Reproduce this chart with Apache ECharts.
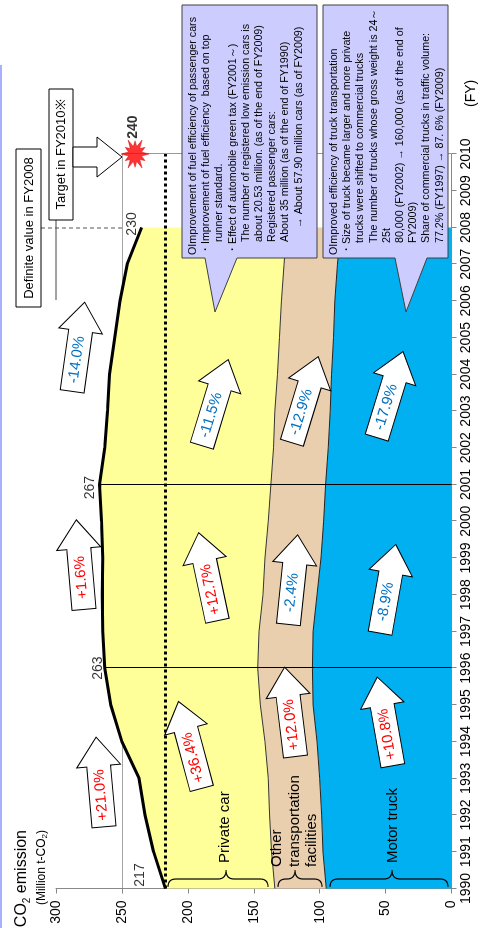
<!DOCTYPE html>
<html>
<head>
<meta charset="utf-8">
<title>CO2 emission of transport sector</title>
<script src="https://cdn.jsdelivr.net/npm/echarts@6.0.0/dist/echarts.min.js"></script>
<style>
  html, body { margin: 0; padding: 0; background: #fff; overflow: hidden; }
  /* the chart is drawn landscape, then turned a quarter left like the scan */
  #main { position: absolute; left: 0; top: 0; width: 928px; height: 486px;
    transform-origin: 0 0; transform: translateY(928px) rotate(-90deg); }
</style>
</head>
<body>
<div id="main"></div>
<script>
var FONT = '"Liberation Sans", Arial, sans-serif'
var myChart = echarts.init(document.getElementById('main'))

// values (million t-CO2)
var years = ['1990', '1991', '1992', '1993', '1994', '1995', '1996', '1997', '1998', '1999', '2000',
  '2001', '2002', '2003', '2004', '2005', '2006', '2007', '2008', '2009', '2010']
var truck = [95, 97.5, 98.5, 100, 102, 105, 105.5, 105, 102, 99, 97, 95.5, 93.5, 92, 91, 89.5, 88.5, 86.5, 84, null, null]
var other = [39, 39, 39.5, 39, 39.5, 40, 41.5, 41, 41, 42.5, 42, 41.5, 41.5, 42, 41, 41, 40.5, 40.5, 41, null, null]
var car = [83, 89.5, 94.5, 98, 108.5, 113.5, 116, 118.5, 122, 123, 126.5, 130, 128, 127, 127.5, 125, 122.5, 119, 110, null, null]

var markYears = ['1990', '1996', '2001', '2008']
var markTotals = [217, 263, 267, 235]
var markText = ['217', '263', '267', '230']
var baseValue = 217
var targetYear = '2010'
var targetValue = 240

var changeText = ['+21.0%', '+1.6%', '-14.0%', '+36.4%', '+12.7%', '-11.5%',
  '+12.0%', '-2.4%', '-12.9%', '+10.8%', '-8.9%', '-17.9%']

var box1Text = [
  'OImprovement of fuel efficiency of passenger cars',
  '・Improvement of fuel efficiency  based on top',
  'runner standard.',
  '・Effect of automobile green tax (FY2001～)',
  'The number of registered low emission cars is',
  'about 20.53 million. (as of the end of FY2009)',
  'Registered passenger cars:',
  'About 35 million (as of the end of FY1990)',
  '→ About 57.90 million cars (as of FY2009)'
]
var box2Text = [
  'OImproved efficiency of truck transportation',
  '・Size of truck became larger and more private',
  'trucks were shifted to commercial trucks',
  'The number of trucks whose gross weight is 24～',
  '25t',
  '80,000 (FY2002) → 160,000 (as of the end of',
  'FY2009)',
  'Share of commercial trucks in traffic volume:',
  '77.2% (FY1997) → 87. 6% (FY2009)'
]

// layout of the annotations (not data)
var changePos = [[2.90, 266.6, 5], [8.82, 281.7, 5], [14.75, 283, -8],
  [3.91, 198.3, 15], [8.49, 184.7, 12], [13.23, 179.4, -17],
  [4.81, 122.5, 7], [8.41, 120.2, -6], [13.31, 111.1, -17],
  [4.55, 50.4, 10], [8.16, 48.2, -10], [13.45, 46.7, -17]]
var box1Indent = [0, 0, 13, 0, 13, 13, 13, 13, 27]
var box2Indent = [0, 0, 12, 12, 12, 12, 12, 12, 12]
var markOffset = [[13.5, -13], [0, 5], [-3, 2.5], [3.5, 2.3]]

function starPath (n, r1, r2) {
  var d = ''
  for (var k = 0; k < n * 2; k++) {
    var r = k % 2 ? r2 : (k % 4 ? r1 * 0.82 : r1)
    var a = Math.PI * k / n - Math.PI / 2
    d += (k ? 'L' : 'M') + (50 + r * Math.cos(a)).toFixed(1) + ',' + (50 + r * Math.sin(a)).toFixed(1)
  }
  return 'path://' + d + 'Z'
}

var option = {
  animation: false,
  backgroundColor: '#fff',
  textStyle: { fontFamily: FONT },
  grid: { left: 39.5, right: 154, top: 56, bottom: 34.5 },
  xAxis: {
    type: 'category',
    data: years,
    boundaryGap: false,
    axisLine: { lineStyle: { color: '#888', width: 1 } },
    axisTick: { show: true, interval: 0, length: 5, lineStyle: { color: '#888' } },
    axisLabel: { interval: 0, color: '#000', fontSize: 14, fontFamily: FONT, margin: 8 },
    splitLine: { show: false }
  },
  yAxis: {
    type: 'value',
    min: 0,
    max: 300,
    interval: 50,
    axisLine: { show: true, lineStyle: { color: '#888', width: 1 } },
    axisTick: { show: true, length: 5, lineStyle: { color: '#888' } },
    axisLabel: { color: '#000', fontSize: 14, fontFamily: FONT, margin: 12 },
    // only the 250 line is drawn
    splitLine: {
      show: true,
      lineStyle: { color: ['rgba(0,0,0,0)', 'rgba(0,0,0,0)', 'rgba(0,0,0,0)', 'rgba(0,0,0,0)',
        'rgba(0,0,0,0)', '#a6a6a6', 'rgba(0,0,0,0)'], width: 1 }
    }
  },
  series: [
    {
      name: 'Motor truck',
      type: 'line',
      stack: 'co2',
      data: truck,
      symbol: 'none',
      lineStyle: { color: '#222', width: 1 },
      areaStyle: { color: '#00B0F0', opacity: 1 }
    },
    {
      name: 'Other transportation facilities',
      type: 'line',
      stack: 'co2',
      data: other,
      symbol: 'none',
      lineStyle: { color: '#333', width: 1 },
      areaStyle: { color: '#EACFAF', opacity: 1 }
    },
    {
      name: 'Private car',
      type: 'line',
      stack: 'co2',
      data: car,
      symbol: 'none',
      lineStyle: { color: '#000', width: 3 },
      areaStyle: { color: '#FFFF99', opacity: 1 },
      markLine: {
        silent: true,
        symbol: 'none',
        label: { show: false },
        data: [
          [{ coord: [markYears[1], 0], lineStyle: { color: '#000', width: 1, type: 'solid' } }, { coord: [markYears[1], markTotals[1]] }],
          [{ coord: [markYears[2], 0], lineStyle: { color: '#000', width: 1, type: 'solid' } }, { coord: [markYears[2], markTotals[2]] }],
          [{ coord: [years[0], baseValue], lineStyle: { color: '#000', width: 3, type: [3, 3] } }, { coord: [years[20], baseValue] }],
          [{ coord: [years[20], 0], lineStyle: { color: '#999', width: 1, type: 'solid' } }, { coord: [years[20], 250] }]
        ]
      }
    },
    {
      name: 'labels',
      type: 'scatter',
      symbolSize: 0,
      silent: true,
      z: 6,
      data: markYears.map(function (y, i) {
        return { value: [y, markTotals[i]], label: { offset: markOffset[i] } }
      }),
      label: {
        show: true,
        position: 'top',
        color: '#000',
        fontSize: 14,
        fontFamily: FONT,
        formatter: function (p) { return markText[p.dataIndex] }
      }
    },
    {
      name: 'target',
      type: 'scatter',
      silent: true,
      z: 8,
      symbol: starPath(12, 50, 24),
      symbolSize: 28,
      itemStyle: { color: '#FF0000', borderColor: '#C00000', borderWidth: 0.5 },
      data: [[targetYear, targetValue]],
      label: {
        show: true,
        position: 'right',
        distance: 1,
        offset: [0, -2],
        formatter: String(targetValue),
        color: '#000',
        fontSize: 14,
        fontWeight: 'bold',
        fontFamily: FONT
      }
    }
  ]
}
myChart.setOption(option)

// pixel spot for a fractional year index and a value
function at (i, v) {
  var a = myChart.convertToPixel({ gridIndex: 0 }, [0, 0])
  var b = myChart.convertToPixel({ gridIndex: 0 }, [20, 300])
  return [a[0] + (b[0] - a[0]) * i / 20, a[1] + (b[1] - a[1]) * v / 300]
}

function txt (x, y, s, size, z, extra) {
  var o = {
    type: 'text', x: x, y: y, z: z || 30, silent: true,
    style: { text: s, fill: '#000', font: size + 'px ' + FONT, textAlign: 'left', align: 'left', textVerticalAlign: 'middle', verticalAlign: 'middle' }
  }
  if (extra) for (var k in extra) o.style[k] = extra[k]
  return o
}

// curly brace "}" that opens toward the value axis
function brace (a, m, b) {
  var x0 = 41, x1 = 49, x2 = 58, c = 8
  var pts = []
  function quad (p0, p1, p2) {
    for (var t = 0; t <= 1.0001; t += 0.125) {
      pts.push([(1 - t) * (1 - t) * p0[0] + 2 * (1 - t) * t * p1[0] + t * t * p2[0],
        (1 - t) * (1 - t) * p0[1] + 2 * (1 - t) * t * p1[1] + t * t * p2[1]])
    }
  }
  quad([x0, a], [x1, a], [x1, a + c])
  quad([x1, m - c], [x1, m], [x2, m])
  quad([x2, m], [x1, m], [x1, m + c])
  quad([x1, b - c], [x1, b], [x0, b])
  return { type: 'polyline', z: 30, silent: true, shape: { points: pts }, style: { stroke: '#000', lineWidth: 1.2, fill: null } }
}

var graphics = []

// faint slide border
graphics.push({ type: 'line', z: 30, shape: { x1: 0, y1: 1, x2: 863, y2: 1 }, style: { stroke: '#A8B0FF', lineWidth: 2 } })

// axis titles
graphics.push({
  type: 'text', x: 98, y: 22, z: 30,
  style: {
    text: '{a|CO}{b|2}{a| emission}',
    textAlign: 'right', align: 'right', textVerticalAlign: 'middle', verticalAlign: 'middle',
    rich: {
      a: { fontSize: 16, fontFamily: FONT, fill: '#000', color: '#000', lineHeight: 20 },
      b: { fontSize: 10, fontFamily: FONT, fill: '#000', color: '#000', lineHeight: 10, verticalAlign: 'bottom' }
    }
  }
})
graphics.push({
  type: 'text', x: 98, y: 42, z: 30,
  style: {
    text: '{a|(Million t-CO}{b|2}{a|)}',
    textAlign: 'right', align: 'right', textVerticalAlign: 'middle', verticalAlign: 'middle',
    rich: {
      a: { fontSize: 12, fontFamily: FONT, fill: '#000', color: '#000', lineHeight: 14 },
      b: { fontSize: 8, fontFamily: FONT, fill: '#000', color: '#000', lineHeight: 8, verticalAlign: 'bottom' }
    }
  }
})
graphics.push(txt(821, 471, '(FY)', 14))

// braces and series names
graphics.push(brace(168, 226, 268))
graphics.push(brace(278, 295, 322))
graphics.push(brace(330, 392, 448))
graphics.push(txt(65, 225, 'Private car', 15))
graphics.push(txt(61, 277, 'Other', 15))
graphics.push(txt(61, 295, 'transportation', 15))
graphics.push(txt(61, 312, 'facilities', 15))
graphics.push(txt(65, 393, 'Motor truck', 15))

// change arrows
changeText.forEach(function (t, i) {
  var p = at(changePos[i][0], changePos[i][1])
  var col = t.charAt(0) === '+' ? '#FF0000' : '#0070C0'
  graphics.push({
    type: 'group', x: p[0], y: p[1], rotation: changePos[i][2] * Math.PI / 180, silent: true,
    children: [
      { type: 'polygon', z: 40, shape: { points: [[-45, -12], [16, -12], [16, -22], [45, 0], [16, 22], [16, 12], [-45, 12]] },
        style: { fill: '#fff', stroke: '#000', lineWidth: 1 } },
      { type: 'text', z: 41, x: -13, y: 0,
        style: { text: t, fill: col, font: '15px ' + FONT, textAlign: 'center', align: 'center', textVerticalAlign: 'middle', verticalAlign: 'middle' } }
    ]
  })
})

// FY2008 / FY2010 notes
graphics.push({ type: 'line', z: 30, shape: { x1: 700, y1: 41, x2: 700, y2: 122 }, style: { stroke: '#555', lineWidth: 1, lineDash: [4, 3] } })
graphics.push({ type: 'line', z: 30, shape: { x1: 628, y1: 56, x2: 708, y2: 56 }, style: { stroke: '#444', lineWidth: 1 } })
graphics.push({ type: 'rect', z: 31, shape: { x: 621, y: 16, width: 158, height: 25 }, style: { fill: '#fff', stroke: '#000', lineWidth: 1 } })
graphics.push(txt(700, 29, 'Definite value in FY2008', 13, 33, { textAlign: 'center', align: 'center' }))
graphics.push({ type: 'rect', z: 31, shape: { x: 708, y: 49, width: 131, height: 24 }, style: { fill: '#fff', stroke: '#000', lineWidth: 1 } })
graphics.push(txt(773.5, 61.5, 'Target in FY2010※', 13, 33, { textAlign: 'center', align: 'center' }))
graphics.push({ type: 'polygon', z: 31, shape: { points: [[761, 73], [781, 73], [781, 97], [791, 97], [771, 122], [751, 97], [761, 97]] },
  style: { fill: '#fff', stroke: '#000', lineWidth: 1 } })

// callout boxes
function callout (top, bottom, b1, b2, tip, lines, indent) {
  graphics.push({
    type: 'polygon', z: 35, silent: true,
    shape: { points: [[670, top], [923, top], [923, bottom], [670, bottom], [670, b2], [616, tip], [670, b1]] },
    style: { fill: '#CCCCFF', stroke: '#404040', lineWidth: 1 }
  })
  lines.forEach(function (s, i) {
    graphics.push(txt(673 + indent[i], top + 11 + i * 13.2, s, 10.7, 36))
  })
}
callout(182, 317, 205, 237, 215, box1Text, box1Indent)
callout(323, 448, 395, 427, 406, box2Text, box2Indent)

myChart.setOption({ graphic: graphics })
</script>
</body>
</html>
